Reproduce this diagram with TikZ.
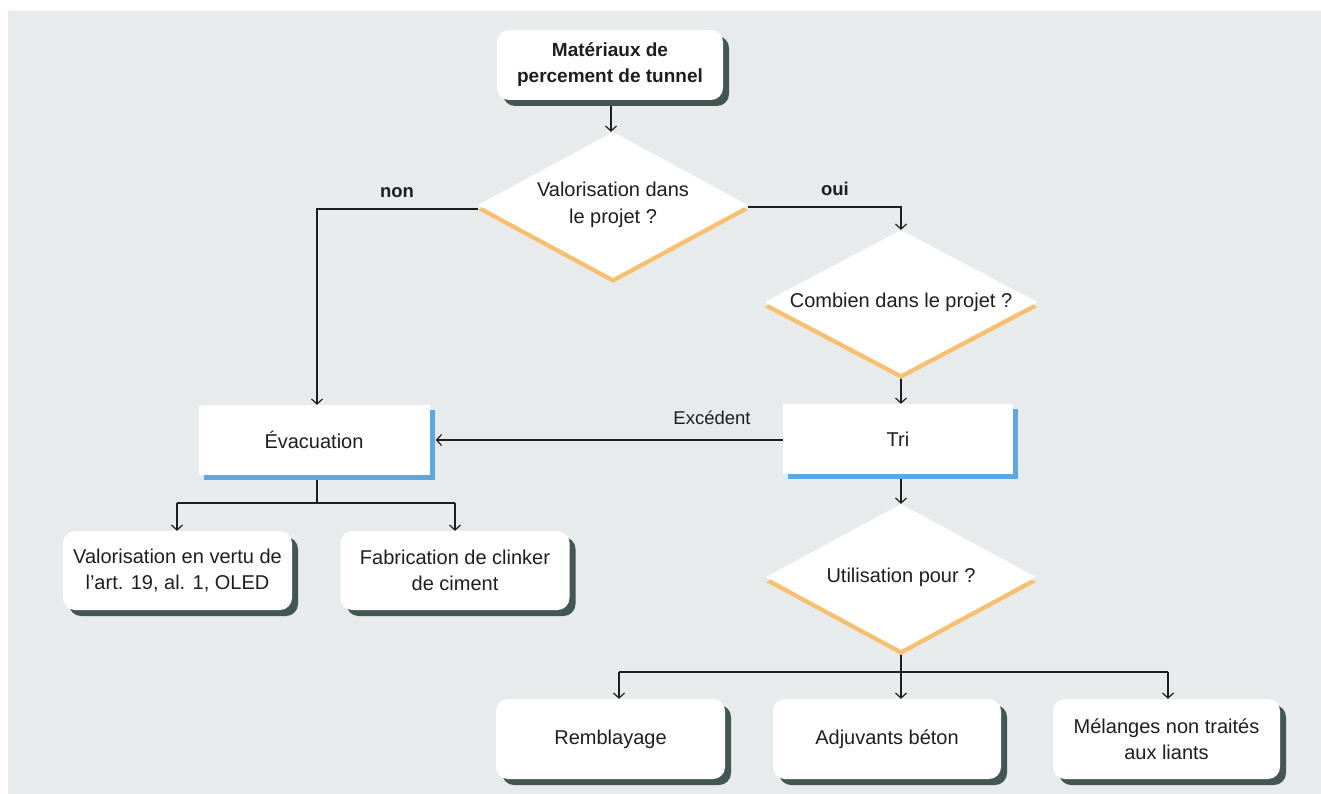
\documentclass[tikz,border=0pt]{standalone}
\usepackage{fontspec}
\setmainfont{Liberation Sans}
\usetikzlibrary{shapes.geometric,shadows,arrows.meta,backgrounds}
\definecolor{bgc}{RGB}{231,235,235}
\definecolor{shd}{RGB}{66,87,84}
\definecolor{orng}{RGB}{248,192,110}
\definecolor{blu}{RGB}{92,168,228}
\definecolor{ink}{RGB}{30,30,30}
\tikzset{
  txt/.style={text=ink, font=\fontsize{20}{26.5}\selectfont, align=center, inner sep=0pt},
  rbox/.style={txt, rectangle, rounded corners=12pt, fill=white, minimum width=229pt, minimum height=79pt,
    drop shadow={fill=shd, opacity=1, shadow xshift=6pt, shadow yshift=-6pt}},
  sbox/.style={txt, rectangle, fill=white, minimum width=231pt, minimum height=70pt,
    drop shadow={fill=blu, opacity=1, shadow xshift=5pt, shadow yshift=-5pt}},
  dec/.style={txt, diamond, fill=white, aspect=1.85, minimum width=270pt, minimum height=146pt,
    drop shadow={fill=orng, opacity=1, shadow xshift=0pt, shadow yshift=-5pt}},
  conn/.style={draw=ink, line width=1.2pt},
  arr/.style={conn, -{Straight Barb[length=5pt,width=11pt,line width=1.2pt]}},
  lbl/.style={text=ink, font=\fontsize{18.5}{22}\selectfont, inner sep=0pt},
}
\begin{document}
\begin{tikzpicture}[x=1pt,y=-1pt]
\useasboundingbox (0,0) rectangle (1321,794);
\begin{pgfonlayer}{background}
\fill[bgc] (8,11) rectangle (1321,794);
\end{pgfonlayer}

\node[rbox, minimum width=226pt, minimum height=70pt, font=\bfseries\fontsize{19}{26}\selectfont] (top) at (610,65) {Matériaux de\\percement de tunnel};
\node[dec] (d1) at (613,205) {Valorisation dans\\le projet ?};
\node[dec, minimum width=273pt, minimum height=144pt] (d2) at (901,302) {Combien dans le projet ?};
\node[sbox, minimum width=230pt] (tri) at (898,439) {Tri};
\node[sbox] (evac) at (314,440) {Évacuation};
\node[rbox] (v1) at (177.5,570.5) {Valorisation en vertu de\\l’art. 19, al. 1, OLED};
\node[rbox] (fab) at (455,570.5) {Fabrication de clinker\\de ciment};
\node[dec] (d3) at (901,577) {Utilisation pour ?};
\node[rbox, minimum height=80pt] (remb) at (610.5,739) {Remblayage};
\node[rbox, minimum height=80pt, minimum width=228pt] (adj) at (887,739) {Adjuvants béton};
\node[rbox, minimum height=80pt, minimum width=227pt] (mel) at (1166.5,739) {Mélanges non traités\\aux liants};

\node[lbl, font=\bfseries\fontsize{18.5}{22}\selectfont] (non) at (397,193) {non};
\node[lbl, font=\bfseries\fontsize{18.5}{22}\selectfont] (oui) at (835,189) {oui};
\node[lbl] (exc) at (712,418) {Excédent};

\coordinate (jl) at (317,503);
\coordinate (jll) at (177,503);
\coordinate (jlr) at (455,503);
\coordinate (jb) at (901,672);
\coordinate (jbl) at (619,672);
\coordinate (jbr) at (1168,672);
\coordinate (dl) at (317,209);
\coordinate (dr) at (901,207);
\coordinate (ex) at (783,440);

\begin{pgfonlayer}{background}
\draw[arr] (top.south -| 611,0) -- (d1.north -| 611,0);
\draw[arr] (d1.west |- dl) -- (dl) -- (dl |- evac.north);
\draw[arr] (d1.east |- dr) -- (dr) -- (dr |- d2.north);
\draw[arr] (d2.south) -- (d2.south |- tri.north);
\draw[arr] (tri.west |- ex) -- ([xshift=6pt]evac.east);
\draw[conn] (jl |- evac.south) -- (jl);
\draw[conn] (jll) -- (jlr);
\draw[arr] (jll) -- (jll |- v1.north);
\draw[arr] (jlr) -- (jlr |- fab.north);
\draw[arr] (tri.south -| d3.north) -- (d3.north);
\draw[conn] (d3.south) -- (jb);
\draw[conn] (jbl) -- (jbr);
\draw[arr] (jbl) -- (jbl |- remb.north);
\draw[arr] (jb) -- (jb |- adj.north);
\draw[arr] (jbr) -- (jbr |- mel.north);
\end{pgfonlayer}
\end{tikzpicture}
\end{document}
